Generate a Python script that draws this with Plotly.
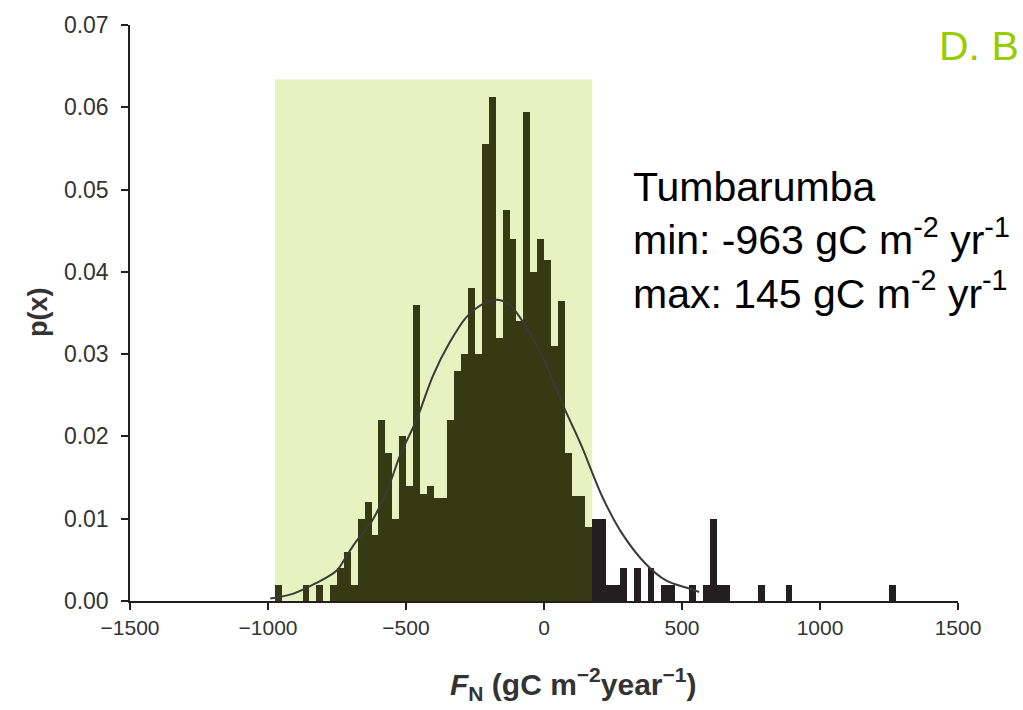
import plotly.graph_objects as go

# ---------------- data ----------------
bin_start = -975      # left edge of the first histogram bin (gC m-2 yr-1)
bin_width = 25        # histogram bin width
# probability per bin, bins 0..89
p_values = [
    0.002, 0.0, 0.0, 0.0, 0.002, 0.0, 0.002, 0.0, 0.002, 0.004,
    0.006, 0.002, 0.010, 0.012, 0.008, 0.022, 0.018, 0.010, 0.020, 0.014,
    0.036, 0.013, 0.014, 0.0125, 0.0125, 0.022, 0.028, 0.030, 0.038, 0.030,
    0.0555, 0.0613, 0.032, 0.0475, 0.044, 0.034, 0.0594, 0.040, 0.044, 0.0415,
    0.031, 0.0365, 0.018, 0.0128, 0.0128, 0.009, 0.010, 0.010, 0.002, 0.002,
    0.004, 0.0, 0.004, 0.0, 0.004, 0.0, 0.002, 0.002, 0.0, 0.0,
    0.002, 0.0, 0.002, 0.010, 0.002, 0.002, 0.0, 0.0, 0.0, 0.0,
    0.002, 0.0, 0.0, 0.0, 0.002, 0.0, 0.0, 0.0, 0.0, 0.0,
    0.0, 0.0, 0.0, 0.0, 0.0, 0.0, 0.0, 0.0, 0.0, 0.002,
]

# fitted density curve
curve_x = [-992, -908, -830, -751, -715, -679, -631, -570, -519, -462,
           -402, -342, -281, -227, -173, -125, -82, -4, 44, 74,
           134, 215, 285, 369, 442, 526, 562]
curve_y = [0.0003, 0.0009, 0.0021, 0.0037, 0.0055, 0.0073, 0.0093, 0.0133, 0.0179, 0.0220,
           0.0274, 0.0314, 0.0345, 0.0360, 0.0366, 0.0360, 0.0342, 0.0296, 0.0258, 0.0234,
           0.0190, 0.0124, 0.0081, 0.0045, 0.0025, 0.0015, 0.0011]

shade_x = [-975, 175]   # shaded (min..max) band
shade_top = 0.0634

x_ticks = [-1500, -1000, -500, 0, 500, 1000, 1500]
y_ticks = [0.00, 0.01, 0.02, 0.03, 0.04, 0.05, 0.06, 0.07]

# ---------------- figure ----------------
FONT = "Liberation Sans, Arial, Helvetica, sans-serif"
AXC = "#231f20"

centers = [bin_start + bin_width * (k + 0.5) for k in range(len(p_values))]
bar_colors = ["#363a13" if c < shade_x[1] else "#231f20" for c in centers]

fig = go.Figure()
fig.add_shape(type="rect", xref="x", yref="y", x0=shade_x[0], x1=shade_x[1],
              y0=0, y1=shade_top, fillcolor="#e8f2c0", line_width=0, layer="below")

fig.add_trace(go.Bar(x=centers, y=p_values, width=bin_width,
                     marker=dict(color=bar_colors, line=dict(width=0)),
                     hoverinfo="x+y"))
fig.add_trace(go.Scatter(x=curve_x, y=curve_y, mode="lines",
                         line=dict(color="#3a3a3a", width=2, shape="spline")))

fig.update_layout(
    width=1023, height=710,
    margin=dict(l=130, r=65, t=21, b=109),
    plot_bgcolor="white", paper_bgcolor="white",
    showlegend=False, bargap=0,
    font=dict(family=FONT, color="#222"),
    xaxis=dict(range=[-1500, 1500], tickvals=x_ticks, showgrid=False, zeroline=False,
               showline=True, linecolor=AXC, linewidth=1.5,
               ticks="outside", ticklen=7, tickwidth=1.5, tickcolor=AXC,
               tickfont=dict(size=21, color="#333", family=FONT)),
    yaxis=dict(range=[0, 0.07], tickvals=y_ticks, tickformat=".2f", showgrid=False,
               zeroline=False, showline=True, linecolor=AXC, linewidth=1.5,
               ticks="outside", ticklen=7, tickwidth=1.5, tickcolor=AXC,
               ticklabelstandoff=8,
               tickfont=dict(size=23, color="#333", family=FONT)),
)

def px_x(px):
    return (px - 130) / 828.0

def px_y(py):
    return (601 - py) / 580.0

fig.add_annotation(xref="paper", yref="paper", x=px_x(573), y=px_y(685),
                   xanchor="center", yanchor="middle", showarrow=False,
                   text="<b><i>F</i><sub>N</sub> (gC m<sup>\u22122</sup>year<sup>\u22121</sup>)</b>",
                   font=dict(size=30, color="#333", family=FONT))
fig.add_annotation(xref="paper", yref="paper", x=px_x(38), y=px_y(310),
                   xanchor="center", yanchor="middle", showarrow=False, textangle=-90,
                   text="<b>p(x)</b>", font=dict(size=27, color="#333", family=FONT))
fig.add_annotation(xref="paper", yref="paper", x=px_x(631), y=px_y(238),
                   xanchor="left", yanchor="middle", showarrow=False, align="left",
                   text=("Tumbarumba<br>min: -963 gC m<sup>-2</sup> yr<sup>-1</sup>"
                         "<br>max: 145 gC m<sup>-2</sup> yr<sup>-1</sup>"),
                   font=dict(size=41, color="#000", family=FONT))
fig.add_annotation(xref="paper", yref="paper", x=px_x(1021), y=px_y(42),
                   xanchor="right", yanchor="middle", showarrow=False,
                   text="D. B", font=dict(size=41, color="#99cc00", family=FONT))

fig.write_html("out.html")
